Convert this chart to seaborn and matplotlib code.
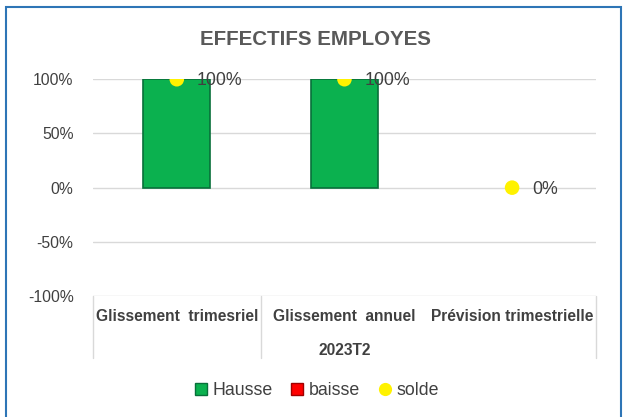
import matplotlib
matplotlib.use("Agg")
import matplotlib.pyplot as plt
import matplotlib.transforms as mtransforms
from matplotlib.lines import Line2D
from matplotlib.patches import Rectangle
import seaborn as sns
import pandas as pd

categories = ["Glissement  trimesriel", "Glissement  annuel", "Prévision trimestrielle"]
group_label = "2023T2"
hausse = [1.0, 1.0, 0.0]
baisse = [0.0, 0.0, 0.0]
solde = [1.0, 1.0, 0.0]
yticks = [-1.0, -0.5, 0.0, 0.5, 1.0]
ytick_labels = ["-100%", "-50%", "0%", "50%", "100%"]
title = "EFFECTIFS EMPLOYES"

sns.set_theme(style="white")
plt.rcParams['font.family'] = ['Liberation Sans', 'DejaVu Sans']

fig = plt.figure(figsize=(6.24, 4.17), dpi=100)
ax = fig.add_axes([0.149, 0.290, 0.806, 0.520])

df = pd.DataFrame({"cat": categories, "hausse": hausse, "solde": solde})
sns.barplot(data=df, x="cat", y="hausse", color="#0BB14F", width=0.4,
            edgecolor="#08703A", linewidth=1.2, saturation=1, ax=ax)
for p in ax.patches:
    if p.get_height() == 0:
        p.set_visible(False)
sns.scatterplot(data=df, x="cat", y="solde", color="#FFF200", s=110,
                edgecolor="none", zorder=5, ax=ax)

for i, v in enumerate(solde):
    ax.annotate(f"{v*100:.0f}%", (i, v), xytext=(14.5, -1), textcoords="offset points",
                va="center", ha="left", fontsize=12.8, color="#404040", zorder=6)

ax.set_xlim(-0.5, 2.5)
ax.set_ylim(-1.0, 1.0)
ax.set_yticks(yticks)
ax.set_yticklabels(ytick_labels, fontsize=11.3, color="#404040")
ax.tick_params(axis="y", length=0, pad=14)
ax.set_xticks([])
ax.set_xlabel("")
ax.set_ylabel("")
for s in ax.spines.values():
    s.set_visible(False)
ax.grid(axis="y", color="#D9D9D9", linewidth=1)
ax.set_axisbelow(True)

trans = mtransforms.blended_transform_factory(ax.transData, ax.transAxes)
for xv in [-0.5, 0.5, 2.5]:
    ax.add_line(Line2D([xv, xv], [0, -0.286], transform=trans, color="#D9D9D9",
                       linewidth=1, clip_on=False))
for i, c in enumerate(categories):
    ax.text(i, -0.092, c, transform=trans, ha="center", va="center",
            fontsize=11.2, fontweight="bold", color="#404040")
ax.text(1.0, -0.249, group_label, transform=trans, ha="center", va="center",
        fontsize=11.2, fontweight="bold", color="#404040")

fig.text(0.505, 0.905, title, ha="center", va="center", fontsize=14.8,
         fontweight="bold", color="#595959")

handles = [
    Line2D([], [], marker="s", linestyle="none", markersize=8, markerfacecolor="#0BB14F",
           markeredgecolor="#08703A", label="Hausse"),
    Line2D([], [], marker="s", linestyle="none", markersize=8, markerfacecolor="#FF0000",
           markeredgecolor="#A00000", label="baisse"),
    Line2D([], [], marker="o", linestyle="none", markersize=9.5, markerfacecolor="#FFF200",
           markeredgecolor="none", label="solde"),
]
fig.legend(handles=handles, loc="center", bbox_to_anchor=(0.507, 0.064), ncol=3,
           frameon=False, fontsize=12.8, handletextpad=0.25, columnspacing=1.0,
           labelcolor="#404040", handlelength=0.8)

fig.patches.append(Rectangle((6/624, -0.01), 615/624, 1 - 7/417 + 0.01, transform=fig.transFigure,
                             fill=False, edgecolor="#2E75B6", linewidth=1.5, zorder=10))

fig.savefig("out.png", dpi=100)
